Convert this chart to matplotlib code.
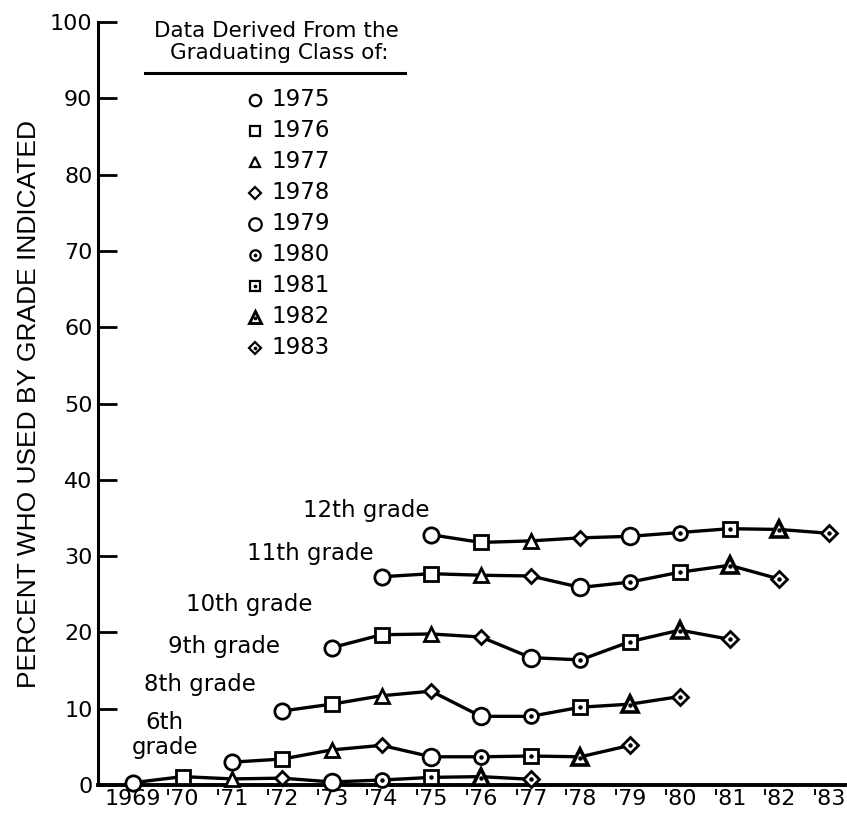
import numpy as np
import matplotlib.pyplot as plt

# year axis
years = list(range(1969, 1984))
year_labels = ["1969", "'70", "'71", "'72", "'73", "'74", "'75", "'76", "'77",
               "'78", "'79", "'80", "'81", "'82", "'83"]

# graduating classes (legend)
classes = [1975, 1976, 1977, 1978, 1979, 1980, 1981, 1982, 1983]

# percent who used by grade indicated, one series per grade (9 classes each)
grade_12 = [32.8, 31.8, 32.0, 32.4, 32.6, 33.1, 33.6, 33.5, 33.0]   # 1975-1983
grade_11 = [27.3, 27.7, 27.5, 27.4, 25.9, 26.6, 27.9, 28.8, 27.0]   # 1974-1982
grade_10 = [18.0, 19.7, 19.8, 19.4, 16.7, 16.4, 18.8, 20.3, 19.1]   # 1973-1981
grade_9 = [9.7, 10.6, 11.7, 12.3, 9.0, 9.0, 10.2, 10.6, 11.6]       # 1972-1980
grade_8 = [3.0, 3.4, 4.6, 5.2, 3.7, 3.7, 3.8, 3.7, 5.2]             # 1971-1979
grade_6 = [0.3, 1.1, 0.8, 0.9, 0.4, 0.65, 1.0, 1.1, 0.75]           # 1969-1977

series = [(12, 1975, grade_12), (11, 1974, grade_11), (10, 1973, grade_10),
          (9, 1972, grade_9), (8, 1971, grade_8), (6, 1969, grade_6)]

grade_text = ["12th grade", "11th grade", "10th grade", "9th grade", "8th grade", "6th\ngrade"]
grade_text_pos = [(1973.69, 36.0), (1972.56, 30.4), (1971.35, 23.6),
                  (1970.83, 18.2), (1970.35, 13.2), (1969.64, 6.6)]

# marker style per class: (marker, size, dot, edge width)
styles = {
    1975: ("o", 11, False, 2.0),
    1976: ("s", 10, False, 2.0),
    1977: ("^", 10, False, 2.0),
    1978: ("D", 7.5, False, 2.0),
    1979: ("o", 12, False, 2.0),
    1980: ("o", 10, True, 2.0),
    1981: ("s", 10, True, 2.0),
    1982: ("^", 11.5, True, 2.6),
    1983: ("D", 8.5, True, 2.0),
}

FONT = "DejaVu Sans"
fig = plt.figure(figsize=(8.47, 8.15), dpi=100)
ax = fig.add_axes([0.1157, 0.0368, 0.882, 0.936])


def draw_marker(x, y, cls, scale=1.0, lw_scale=1.0):
    m, s, dot, ew = styles[cls]
    ax.plot([x], [y], marker=m, markersize=s * scale, markerfacecolor="white",
            markeredgecolor="black", markeredgewidth=ew * lw_scale,
            linestyle="none", zorder=4, clip_on=False)
    if dot:
        dy = 0.12 * scale if m == "^" else 0
        ax.plot([x], [y - dy], marker="o", markersize=2.2 * scale, color="black",
                linestyle="none", zorder=5, clip_on=False)


for grade, start, vals in series:
    xs = list(range(start, start + len(vals)))
    ax.plot(xs, vals, color="black", lw=2.4, zorder=3, solid_joinstyle="round")
    for x, v in zip(xs, vals):
        draw_marker(x, v, x + 12 - grade)

for txt, (tx, ty) in zip(grade_text, grade_text_pos):
    ax.text(tx, ty, txt, ha="center", va="center", fontsize=16.5, family=FONT,
            linespacing=1.1)

# legend block
ax.text(1971.88, 98.9, "Data Derived From the", ha="center", va="center",
        fontsize=15.5, family=FONT)
ax.text(1971.95, 95.9, "Graduating Class of:", ha="center", va="center",
        fontsize=15.5, family=FONT)
ax.plot([1969.24, 1974.47], [93.4, 93.4], color="black", lw=2.2, zorder=3)
leg_y = np.linspace(89.8, 57.3, len(classes))
for cls, ly in zip(classes, leg_y):
    draw_marker(1971.45, ly, cls, scale=0.75, lw_scale=0.8)
    ax.text(1971.78, ly, str(cls), ha="left", va="center",
            fontsize=16.5, family=FONT)

ax.set_xlim(1968.3, 1983.32)
ax.set_ylim(0, 100)
ax.set_xticks(years)
ax.set_xticklabels(year_labels, fontsize=16, family=FONT)
ax.set_yticks(range(0, 101, 10))
ax.set_yticklabels([str(v) for v in range(0, 101, 10)], fontsize=16, family=FONT)
ax.tick_params(axis="x", length=0, pad=3)
ax.tick_params(axis="y", direction="in", length=14, width=2, pad=4)
for side in ["top", "right"]:
    ax.spines[side].set_visible(False)
ax.spines["left"].set_linewidth(2.2)
ax.spines["bottom"].set_linewidth(2.8)
ax.set_ylabel("PERCENT WHO USED BY GRADE INDICATED", fontsize=19,
              family="Liberation Sans", labelpad=6)

fig.savefig("out.png", dpi=100)
